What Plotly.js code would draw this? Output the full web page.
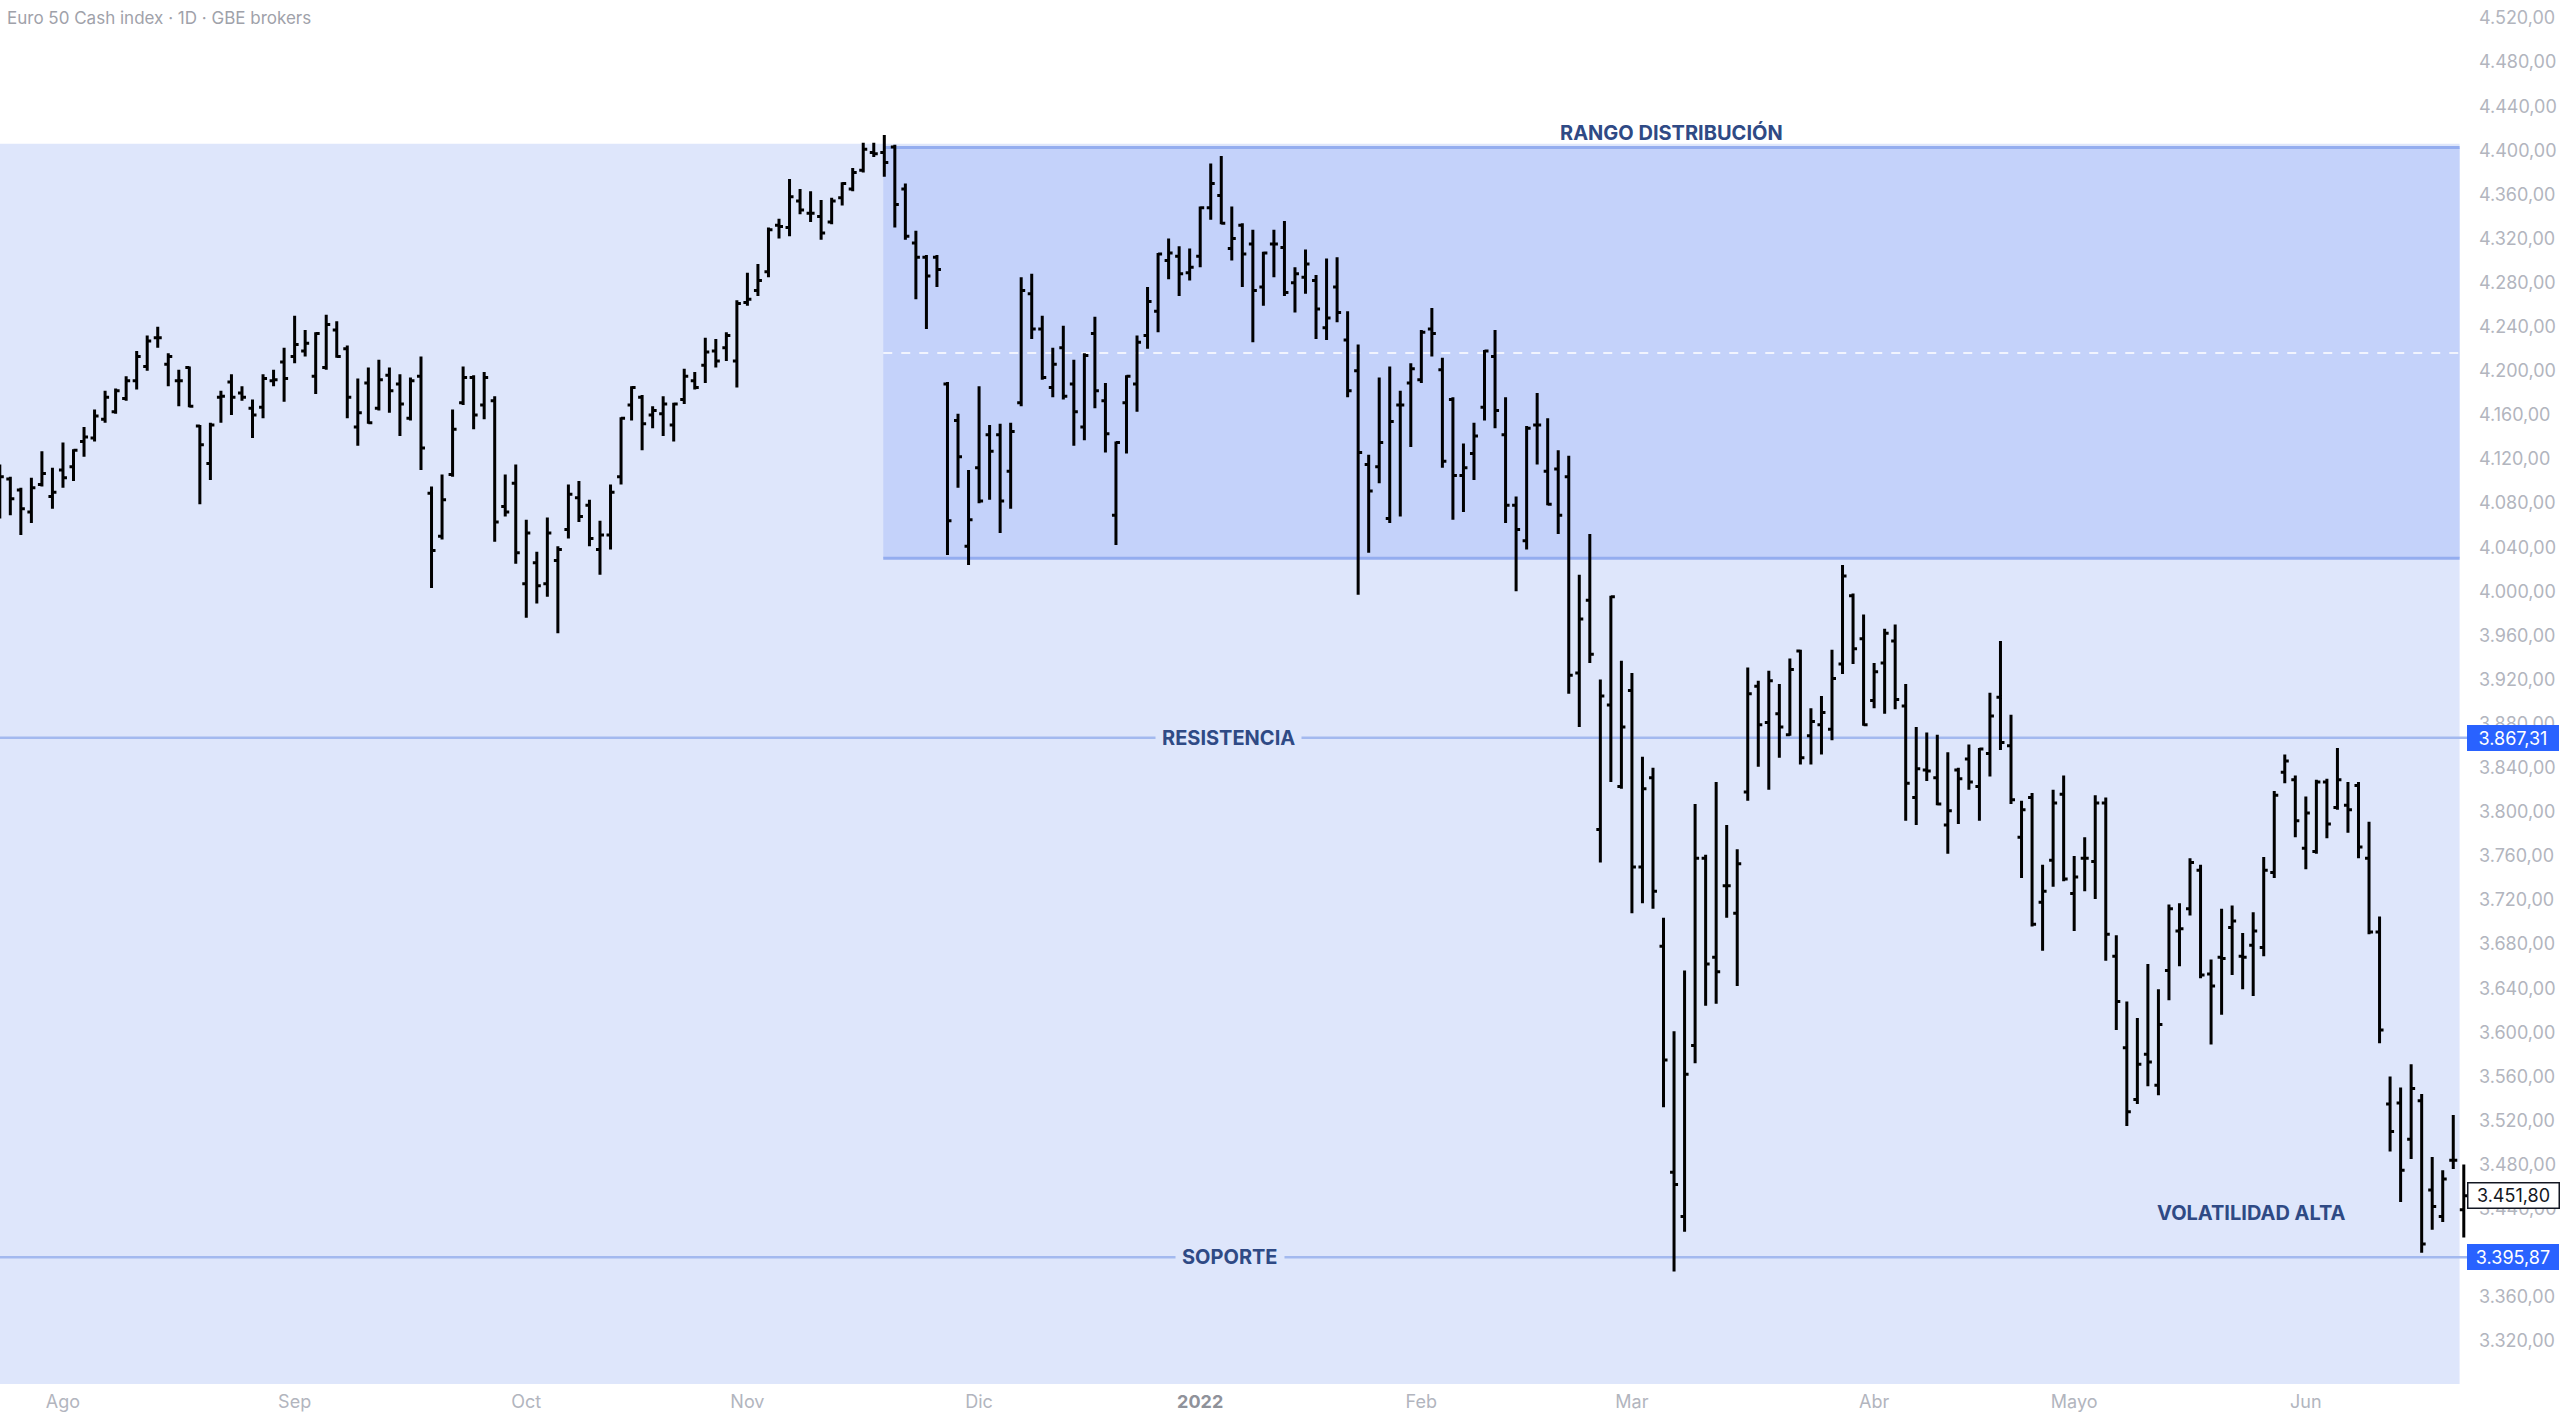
<!DOCTYPE html>
<html>
<head>
<meta charset="utf-8">
<script src="https://cdn.plot.ly/plotly-3.0.1.min.js"></script>
<style>html,body{margin:0;padding:0;background:#fff;}#chart{width:2560px;height:1419px;}</style>
</head>
<body>
<div id="chart"></div>
<script>
// Trading days per month (Euro 50 cash index, daily)
const tradingDays = [
  ["2021-07",[23,26,27,28,29,30]],
  ["2021-08",[2,3,4,5,6,9,10,11,12,13,16,17,18,19,20,23,24,25,26,27,30,31]],
  ["2021-09",[1,2,3,6,7,8,9,10,13,14,15,16,17,20,21,22,23,24,27,28,29,30]],
  ["2021-10",[1,4,5,6,7,8,11,12,13,14,15,18,19,20,21,22,25,26,27,28,29]],
  ["2021-11",[1,2,3,4,5,8,9,10,11,12,15,16,17,18,19,22,23,24,25,26,29,30]],
  ["2021-12",[1,2,3,6,7,8,9,10,13,14,15,16,17,20,21,22,23,27,28,29,30]],
  ["2022-01",[3,4,5,6,7,10,11,12,13,14,17,18,19,20,21,24,25,26,27,28,31]],
  ["2022-02",[1,2,3,4,7,8,9,10,11,14,15,16,17,18,21,22,23,24,25,28]],
  ["2022-03",[1,2,3,4,7,8,9,10,11,14,15,16,17,18,21,22,23,24,25,28,29,30,31]],
  ["2022-04",[1,4,5,6,7,8,11,12,13,14,19,20,21,22,25,26,27,28,29]],
  ["2022-05",[2,3,4,5,6,9,10,11,12,13,16,17,18,19,20,23,24,25,26,27,30,31]],
  ["2022-06",[1,2,3,6,7,8,9,10,13,14,15,16,17,20,21,22]]
];
const dates = [];
tradingDays.forEach(([m, days]) => days.forEach(d => dates.push(m + "-" + String(d).padStart(2, "0"))));

const open = [
4080,4102,4092,4072,4097,4086,4110,4113,4136,4139,4156,4163,4175,4191,4204,4230,4206,4191,4203,4150,
4116,4176,4190,4180,4166,4167,4191,4208,4213,4218,4195,4203,4237,4220,4149,4189,4166,4196,4188,4157,
4195,4089,4050,4106,4171,4194,4169,4173,4077,4098,4007,4026,4007,4028,4056,4085,4078,4038,4051,4104,
4169,4176,4160,4161,4151,4174,4191,4205,4218,4221,4209,4262,4273,4290,4332,4330,4354,4343,4340,4335,
4357,4365,4382,4398,4398,4403,4365,4316,4303,4303,4188,4155,4041,4112,4142,4142,4109,4171,4270,4238,
4185,4221,4188,4149,4234,4173,4069,4171,4188,4232,4254,4300,4304,4289,4304,4348,4359,4311,4332,4315,
4276,4315,4312,4280,4285,4282,4239,4276,4228,4200,4115,4113,4066,4169,4189,4192,4238,4201,4174,4105,
4125,4167,4213,4142,4078,4046,4151,4109,4111,4104,3926,3992,3784,3897,3823,3910,3750,3831,3678,3473,
3433,3588,3758,3668,3733,3708,3818,3914,3881,3889,3870,3946,3869,3879,3875,3934,3996,3957,3901,3935,
3955,3896,3813,3838,3831,3788,3838,3848,3823,3853,3904,3860,3777,3813,3718,3756,3816,3726,3758,3755,
3808,3669,3586,3539,3580,3552,3656,3692,3712,3747,3653,3668,3695,3669,3679,3677,3745,3836,3829,3767,
3764,3827,3804,3806,3824,3758,3691,3535,3536,3503,3538,3457,3433,3484,3439
];
const high = [
4115,4104,4094,4103,4127,4112,4135,4129,4149,4165,4182,4184,4195,4218,4232,4240,4216,4201,4204,4151,
4153,4182,4197,4186,4174,4197,4201,4221,4250,4237,4235,4251,4245,4223,4193,4203,4210,4203,4197,4194,
4213,4095,4106,4165,4204,4196,4199,4177,4106,4115,4065,4036,4067,4041,4097,4100,4083,4064,4097,4158,
4186,4178,4168,4177,4171,4202,4199,4230,4229,4235,4264,4289,4297,4330,4338,4374,4365,4363,4355,4357,
4371,4384,4407,4407,4414,4405,4370,4327,4305,4305,4190,4161,4110,4186,4151,4152,4153,4285,4288,4250,
4221,4241,4210,4216,4249,4189,4136,4196,4232,4276,4307,4320,4313,4311,4349,4388,4395,4349,4334,4328,
4308,4328,4336,4294,4310,4287,4302,4303,4254,4224,4124,4194,4204,4182,4207,4237,4257,4212,4176,4134,
4153,4219,4237,4176,4086,4150,4180,4157,4128,4123,4015,4052,3920,3996,3937,3926,3850,3840,3704,3601,
3656,3807,3761,3827,3788,3766,3931,3919,3928,3916,3939,3947,3894,3905,3947,4024,3998,3979,3935,3966,
3970,3916,3877,3872,3870,3854,3840,3861,3858,3908,3955,3888,3810,3817,3752,3820,3833,3760,3777,3815,
3813,3688,3628,3613,3662,3639,3716,3717,3758,3752,3666,3712,3715,3690,3709,3759,3819,3852,3833,3814,
3829,3830,3858,3827,3827,3791,3705,3560,3550,3571,3544,3487,3475,3525,3480
];
const low = [
4066,4069,4051,4062,4095,4075,4094,4100,4122,4136,4153,4161,4173,4183,4200,4221,4186,4168,4167,4079,
4101,4153,4160,4173,4139,4157,4186,4172,4207,4213,4179,4201,4212,4157,4132,4152,4164,4162,4141,4155,
4110,4003,4047,4104,4169,4147,4156,4045,4068,4025,3976,3989,3995,3962,4048,4063,4041,4015,4038,4097,
4155,4128,4148,4141,4136,4170,4183,4189,4203,4209,4185,4259,4268,4285,4320,4322,4342,4335,4319,4333,
4350,4363,4380,4394,4376,4330,4319,4265,4238,4276,4033,4094,4024,4080,4083,4053,4075,4168,4229,4192,
4176,4174,4132,4137,4166,4126,4042,4125,4163,4220,4235,4283,4268,4282,4294,4337,4333,4300,4276,4226,
4259,4285,4268,4253,4270,4229,4228,4244,4176,3997,4035,4098,4062,4068,4131,4189,4213,4112,4065,4072,
4101,4155,4148,4062,4000,4038,4115,4078,4052,3907,3877,3935,3754,3827,3821,3708,3717,3712,3532,3383,
3419,3572,3624,3626,3704,3642,3810,3841,3820,3849,3869,3843,3843,3852,3865,3925,3934,3878,3894,3889,
3893,3792,3788,3828,3806,3762,3789,3820,3792,3832,3856,3807,3740,3696,3674,3732,3737,3692,3728,3721,
3665,3602,3515,3535,3551,3543,3629,3660,3706,3649,3589,3616,3652,3639,3633,3669,3740,3826,3777,3748,
3762,3776,3802,3781,3758,3689,3590,3492,3446,3485,3400,3421,3428,3476,3414
];
const close = [
4104,4084,4075,4094,4107,4090,4103,4128,4140,4159,4176,4182,4191,4213,4227,4230,4213,4191,4168,4133,
4151,4177,4176,4176,4160,4193,4192,4193,4224,4225,4234,4242,4213,4176,4162,4153,4192,4182,4170,4191,
4130,4037,4083,4147,4194,4160,4194,4063,4072,4035,4053,4005,4053,4038,4088,4068,4048,4051,4090,4157,
4185,4152,4164,4170,4170,4195,4185,4217,4209,4232,4261,4265,4282,4328,4331,4358,4346,4343,4325,4354,
4370,4380,4401,4397,4389,4351,4322,4303,4286,4292,4064,4122,4065,4082,4127,4082,4145,4273,4238,4194,
4206,4177,4163,4214,4182,4143,4135,4195,4226,4263,4306,4307,4288,4294,4348,4370,4334,4320,4306,4273,
4307,4315,4271,4288,4297,4256,4248,4253,4182,4126,4091,4135,4154,4169,4202,4235,4234,4118,4105,4112,
4141,4218,4164,4078,4056,4148,4151,4079,4069,3924,3975,3943,3905,3995,3877,3750,3821,3728,3575,3462,
3562,3758,3662,3655,3733,3753,3907,3879,3919,3877,3929,3849,3882,3890,3921,4014,3948,3879,3927,3962,
3902,3826,3839,3837,3807,3801,3830,3827,3857,3887,3863,3811,3802,3698,3728,3808,3739,3741,3758,3808,
3689,3628,3528,3571,3573,3607,3712,3694,3754,3652,3642,3667,3701,3668,3692,3747,3815,3846,3792,3799,
3827,3789,3829,3802,3768,3691,3602,3510,3475,3549,3408,3442,3467,3484,3451.8
];

// Axis labels
const monthTickDates = ["2021-08-02","2021-09-01","2021-10-01","2021-11-01","2021-12-01","2022-01-03","2022-02-01","2022-03-01","2022-04-01","2022-05-02","2022-06-01"];
const monthTickText = ["Ago","Sep","Oct","Nov","Dic","<b><span style=\"color:#8f929a\">2022</span></b>","Feb","Mar","Abr","Mayo","Jun"];

// Levels drawn on the chart
const rangeTop = 4402.5, rangeBottom = 4030;
const resistance = 3867.31, support = 3395.87;
const lastPrice = 3451.80;

const FONT = "Inter, 'Noto Sans', 'Liberation Sans', sans-serif";
const LIGHT = "#dee6fb", DARK = "#c4d2fa", EDGE = "#94adef", LVL = "#a3b9ef", LABEL = "#2f4a85";
const XEND = 233.6, RSTART = 83.9;

const trace = {
  type: "ohlc",
  x: dates, open: open, high: high, low: low, close: close,
  increasing: {line: {color: "#000000", width: 3}},
  decreasing: {line: {color: "#000000", width: 3}},
  tickwidth: 0.38,
  hoverinfo: "skip",
  showlegend: false
};

const fmt = v => v.toLocaleString("de-DE", {minimumFractionDigits: 2, maximumFractionDigits: 2});

const layout = {
  width: 2560, height: 1419, autosize: false,
  margin: {l: 0, r: 92, t: 0, b: 35, pad: 0},
  paper_bgcolor: "#ffffff", plot_bgcolor: "#ffffff",
  separators: ",.",
  font: {family: FONT, color: "#b2b5be", size: 18},
  showlegend: false,
  xaxis: {
    type: "category",
    range: [0.02, 234.4],
    rangeslider: {visible: false},
    showgrid: false, zeroline: false, showline: false,
    ticks: "", tickmode: "array",
    tickvals: monthTickDates, ticktext: monthTickText,
    tickfont: {family: FONT, size: 18, color: "#b2b5be"},
    ticklabelstandoff: 5,
    fixedrange: true
  },
  yaxis: {
    side: "right",
    range: [3281, 4536.4],
    dtick: 40, tick0: 0,
    tickformat: ",.2f",
    showgrid: false, zeroline: false, showline: false,
    ticks: "",
    tickfont: {family: FONT, size: 18, color: "#b2b5be"},
    ticklabelstandoff: 10,
    fixedrange: true
  },
  shapes: [
    {type: "rect", xref: "x", yref: "y", x0: -2, x1: XEND, y0: 3200, y1: 4406,
     fillcolor: LIGHT, line: {width: 0}, layer: "below"},
    {type: "rect", xref: "x", yref: "y", x0: RSTART, x1: XEND, y0: rangeBottom, y1: rangeTop,
     fillcolor: DARK, line: {width: 0}, layer: "below"},
    {type: "line", xref: "x", yref: "y", x0: RSTART, x1: XEND, y0: rangeTop, y1: rangeTop,
     line: {color: EDGE, width: 3}, layer: "below"},
    {type: "line", xref: "x", yref: "y", x0: RSTART, x1: XEND, y0: rangeBottom, y1: rangeBottom,
     line: {color: EDGE, width: 3}, layer: "below"},
    {type: "line", xref: "x", yref: "y", x0: RSTART, x1: XEND, y0: (rangeTop + rangeBottom) / 2, y1: (rangeTop + rangeBottom) / 2,
     line: {color: "#ffffff", width: 1.5, dash: "dash"}, layer: "below"},
    {type: "line", xref: "x", yref: "y", x0: -2, x1: 250, y0: resistance, y1: resistance,
     line: {color: LVL, width: 2.5}, layer: "below"},
    {type: "line", xref: "x", yref: "y", x0: -2, x1: 250, y0: support, y1: support,
     line: {color: LVL, width: 2.5}, layer: "below"}
  ],
  annotations: [
    {xref: "paper", yref: "paper", x: 0.002, y: 0.987, xanchor: "left", yanchor: "middle",
     text: "Euro 50 Cash index · 1D · GBE brokers", showarrow: false,
     font: {family: FONT, size: 17, color: "#9fa2aa"}},
    {xref: "x", yref: "y", x: 158.8, y: 4416.5, text: "<b>RANGO DISTRIBUCIÓN</b>", showarrow: false,
     font: {family: FONT, size: 20, color: LABEL}},
    {xref: "x", yref: "y", x: 116.7, y: resistance, text: "<b>RESISTENCIA</b>", showarrow: false,
     font: {family: FONT, size: 20, color: LABEL}, bgcolor: LIGHT, borderpad: 6},
    {xref: "x", yref: "y", x: 116.8, y: support, text: "<b>SOPORTE</b>", showarrow: false,
     font: {family: FONT, size: 20, color: LABEL}, bgcolor: LIGHT, borderpad: 6},
    {xref: "x", yref: "y", x: 213.8, y: 3436, text: "<b>VOLATILIDAD ALTA</b>", showarrow: false,
     font: {family: FONT, size: 20, color: LABEL}},
    {xref: "paper", yref: "y", x: 1, xshift: -1, y: resistance, xanchor: "left", yanchor: "middle",
     text: fmt(resistance), showarrow: false, width: 86, height: 20, borderpad: 2,
     bgcolor: "#2962ff", bordercolor: "#2962ff", borderwidth: 1,
     font: {family: FONT, size: 18, color: "#ffffff"}},
    {xref: "paper", yref: "y", x: 1, xshift: -1, y: support, xanchor: "left", yanchor: "middle",
     text: fmt(support), showarrow: false, width: 86, height: 20, borderpad: 2,
     bgcolor: "#2962ff", bordercolor: "#2962ff", borderwidth: 1,
     font: {family: FONT, size: 18, color: "#ffffff"}},
    {xref: "paper", yref: "y", x: 1, xshift: -1, y: lastPrice, xanchor: "left", yanchor: "middle",
     text: fmt(lastPrice), showarrow: false, width: 86, height: 20, borderpad: 2,
     bgcolor: "#ffffff", bordercolor: "#131722", borderwidth: 1.5,
     font: {family: FONT, size: 18, color: "#131722"}}
  ]
};

Plotly.newPlot("chart", [trace], layout, {staticPlot: true, displayModeBar: false});
</script>
</body>
</html>
